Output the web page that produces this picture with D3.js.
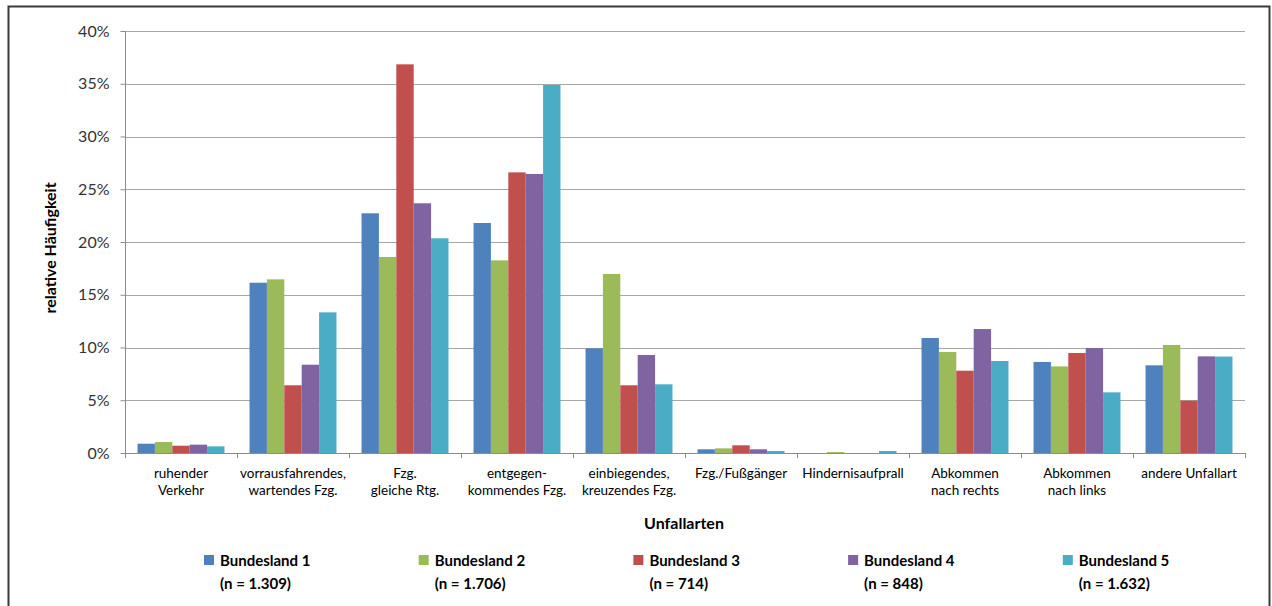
<!DOCTYPE html>
<html>
<head>
<meta charset="utf-8">
<script src="https://cdn.jsdelivr.net/npm/d3@7"></script>
<style>
  body { margin: 0; background: #fff; }
  text { font-family: Lato, 'Open Sans', sans-serif; }
</style>
</head>
<body>
<div id="container"></div>
<script>
var w = 1272,
    h = 606;

// Unfallarten (x axis), two lines each
var categories = [
    'ruhender\nVerkehr',
    'vorrausfahrendes,\nwartendes Fzg.',
    'Fzg.\ngleiche Rtg.',
    'entgegen-\nkommendes Fzg.',
    'einbiegendes,\nkreuzendes Fzg.',
    'Fzg./Fußgänger',
    'Hindernisaufprall',
    'Abkommen\nnach rechts',
    'Abkommen\nnach links',
    'andere Unfallart'
];

var seriesNames = ['Bundesland 1', 'Bundesland 2', 'Bundesland 3', 'Bundesland 4', 'Bundesland 5'];
var seriesN = ['(n = 1.309)', '(n = 1.706)', '(n = 714)', '(n = 848)', '(n = 1.632)'];
var colors = ['#4f81bd', '#9bbb59', '#c0504d', '#8064a2', '#4bacc6'];

// relative Häufigkeit in %
var land1 = [0.88, 16.14, 22.72, 21.8, 9.92, 0.35, 0, 10.9, 8.63, 8.31];
var land2 = [1.04, 16.46, 18.58, 18.26, 16.97, 0.44, 0.09, 9.57, 8.21, 10.24];
var land3 = [0.69, 6.42, 36.84, 26.6, 6.42, 0.73, 0, 7.8, 9.48, 4.96];
var land4 = [0.79, 8.37, 23.67, 26.45, 9.29, 0.35, 0, 11.75, 9.95, 9.16];
var land5 = [0.63, 13.33, 20.35, 34.88, 6.51, 0.19, 0.19, 8.72, 5.75, 9.14];

var yTicks = [0, 5, 10, 15, 20, 25, 30, 35, 40];

var values = [land1, land2, land3, land4, land5];

var plot = { left: 125, right: 1245, top: 31, bottom: 453 };

var svg = d3.select('#container')
    .append('svg')
    .attr('width', w)
    .attr('height', h);

// outer frame (bottom edge runs off the picture)
svg.append('rect')
    .attr('x', 8.5)
    .attr('y', 6.5)
    .attr('width', 1261)
    .attr('height', 640)
    .attr('fill', 'none')
    .attr('stroke', '#3a3a3a')
    .attr('stroke-width', 2);

var x0 = d3.scaleBand()
    .domain(d3.range(categories.length))
    .range([plot.left, plot.right]);

var x1 = d3.scaleBand()
    .domain(d3.range(seriesNames.length))
    .range([0, x0.bandwidth()])
    .paddingOuter(0.72);

var y = d3.scaleLinear()
    .domain([0, 40])
    .range([plot.bottom, plot.top]);

// gridlines
svg.append('g')
    .selectAll('line')
    .data(yTicks.slice(1))
    .enter()
    .append('line')
    .attr('x1', plot.left)
    .attr('x2', plot.right)
    .attr('y1', function(d) { return Math.round(y(d)) + 0.5; })
    .attr('y2', function(d) { return Math.round(y(d)) + 0.5; })
    .attr('stroke', '#a6a6a6');

// bars
var groups = svg.selectAll('.cat')
    .data(categories)
    .enter()
    .append('g')
    .attr('class', 'cat')
    .attr('transform', function(d, i) {
        return 'translate(' + x0(i) + ',0)';
    });

groups.selectAll('rect')
    .data(function(d, i) {
        return values.map(function(s, j) { return { s: j, v: s[i] }; });
    })
    .enter()
    .append('rect')
    .attr('x', function(d) { return x1(d.s); })
    .attr('width', x1.bandwidth())
    .attr('y', function(d) { return y(d.v); })
    .attr('height', function(d) { return y(0) - y(d.v); })
    .attr('fill', function(d) { return colors[d.s]; });

// y axis
var yAxis = svg.append('g')
    .attr('transform', 'translate(' + (plot.left + 0.5) + ',0)')
    .call(d3.axisLeft(y)
        .tickValues(yTicks)
        .tickSize(5)
        .tickPadding(11)
        .tickFormat(function(d) { return d + '%'; }));

yAxis.select('.domain').attr('stroke', '#8c8c8c').attr('d', 'M0,' + plot.top + 'V' + plot.bottom);
yAxis.selectAll('.tick line').attr('stroke', '#8c8c8c');
yAxis.selectAll('.tick text')
    .attr('fill', '#333')
    .style('font-size', '16px');

// x axis: ticks between categories
var xAxis = svg.append('g');
xAxis.append('line')
    .attr('x1', plot.left)
    .attr('x2', plot.right)
    .attr('y1', plot.bottom + 0.5)
    .attr('y2', plot.bottom + 0.5)
    .attr('stroke', '#8c8c8c');

xAxis.selectAll('.xtick')
    .data(d3.range(categories.length + 1))
    .enter()
    .append('line')
    .attr('class', 'xtick')
    .attr('x1', function(i) { return Math.round(plot.left + i * x0.step()) + 0.5; })
    .attr('x2', function(i) { return Math.round(plot.left + i * x0.step()) + 0.5; })
    .attr('y1', plot.bottom)
    .attr('y2', plot.bottom + 5)
    .attr('stroke', '#8c8c8c');

var catLabels = xAxis.selectAll('.clabel')
    .data(categories)
    .enter()
    .append('text')
    .attr('class', 'clabel')
    .attr('text-anchor', 'middle')
    .attr('fill', '#000')
    .style('font-size', '13.5px')
    .attr('transform', function(d, i) {
        return 'translate(' + (x0(i) + x0.bandwidth() / 2) + ',' + 478 + ')';
    });

catLabels.selectAll('tspan')
    .data(function(d) { return d.split('\n'); })
    .enter()
    .append('tspan')
    .attr('x', 0)
    .attr('dy', function(d, i) { return i === 0 ? 0 : 17; })
    .text(function(d) { return d; });

// axis titles
svg.append('text')
    .attr('x', 684)
    .attr('y', 529)
    .attr('text-anchor', 'middle')
    .style('font-size', '16px')
    .style('font-weight', 'bold')
    .attr('fill', '#000')
    .text('Unfallarten');

svg.append('text')
    .attr('transform', 'translate(56,248) rotate(-90)')
    .attr('text-anchor', 'middle')
    .style('font-size', '16px')
    .style('font-weight', 'bold')
    .attr('fill', '#000')
    .text('relative Häufigkeit');

// legend
var legend = svg.selectAll('.legend')
    .data(seriesNames)
    .enter()
    .append('g')
    .attr('class', 'legend')
    .attr('transform', function(d, i) {
        return 'translate(' + (204 + i * 214.7) + ',555)';
    });

legend.append('rect')
    .attr('width', 10)
    .attr('height', 10)
    .attr('fill', function(d, i) { return colors[i]; });

legend.append('text')
    .attr('x', 16)
    .attr('y', 11)
    .style('font-size', '15px')
    .style('font-weight', 'bold')
    .attr('fill', '#000')
    .text(function(d) { return d; });

legend.append('text')
    .attr('x', 16)
    .attr('y', 34)
    .style('font-size', '15px')
    .style('font-weight', 'bold')
    .attr('fill', '#000')
    .text(function(d, i) { return seriesN[i]; });
</script>
</body>
</html>
